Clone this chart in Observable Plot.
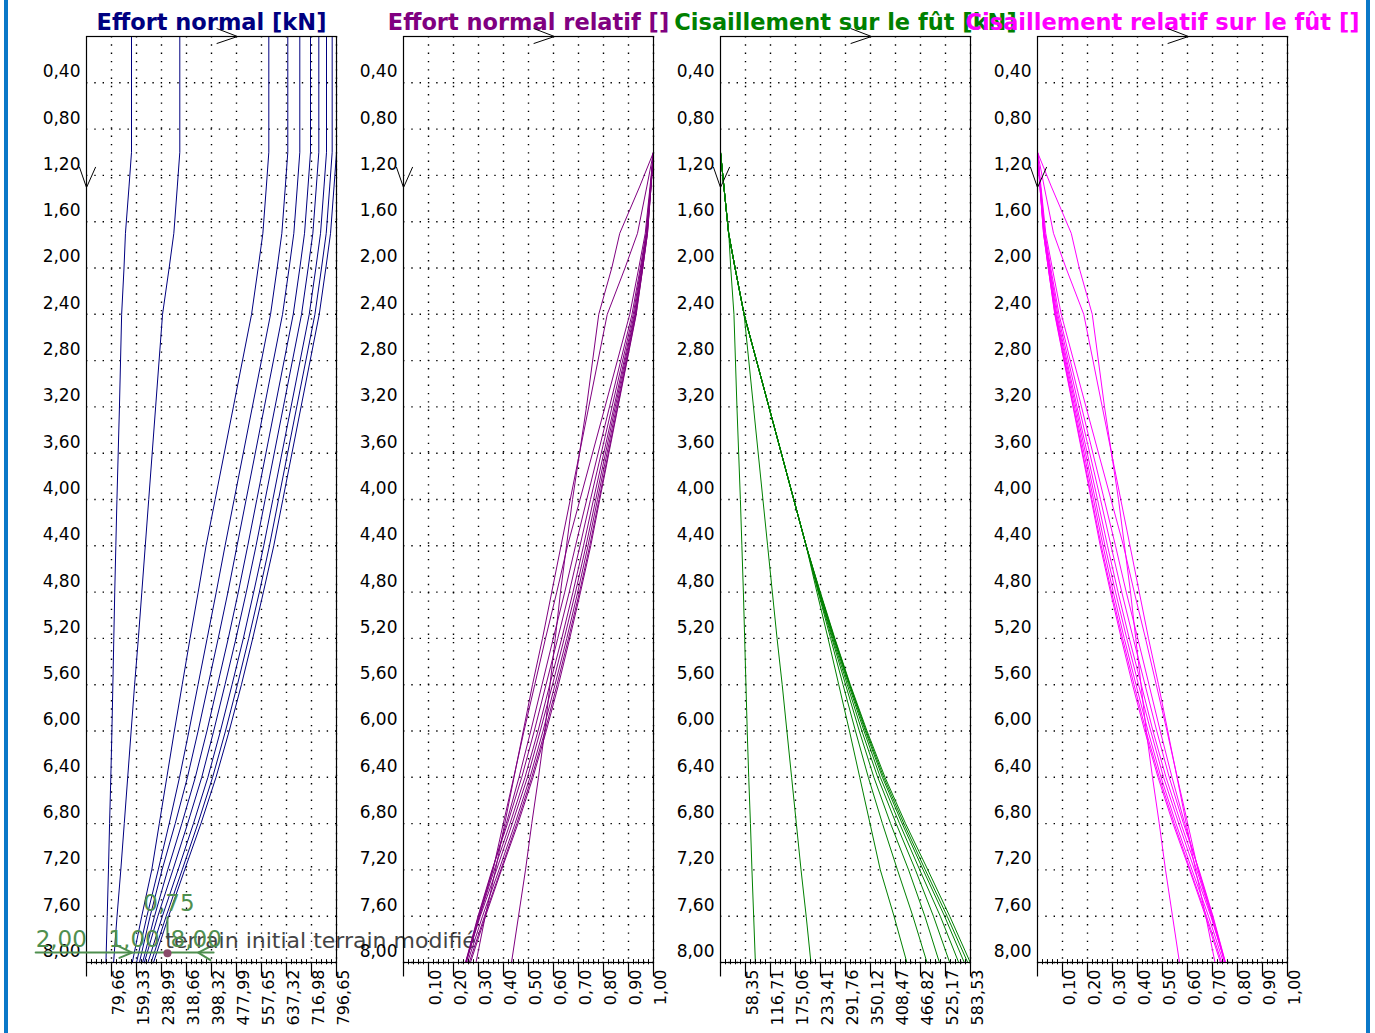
<!DOCTYPE html>
<html><head><meta charset="utf-8">
<script src="https://cdn.jsdelivr.net/npm/d3@7"></script>
<script src="https://cdn.jsdelivr.net/npm/@observablehq/plot@0.6"></script>
<style>
body{margin:0;background:#fff;}
#root{position:relative;width:1375px;height:1033px;overflow:hidden;background:#fff;font-family:"DejaVu Sans",sans-serif;}
.bar{position:absolute;top:0;width:4px;height:1033px;background:#0a78c8;}
</style></head><body><div id="root"><div class="bar" style="left:4px"></div><div class="bar" style="left:1366px"></div></div>
<script>
// depths (m) at which the curves were read
const depths = [0, 1.0, 1.3, 1.7, 2.0, 2.4, 3.2, 4.0, 4.4, 4.8, 5.2, 5.6, 6.0, 6.4, 6.8, 7.2, 7.6, 8.0];
const depthTicks = [0.4,0.8,1.2,1.6,2.0,2.4,2.8,3.2,3.6,4.0,4.4,4.8,5.2,5.6,6.0,6.4,6.8,7.2,7.6,8.0];

// Panel 1 : Effort normal [kN]
const normalTicks = [79.665,159.33,238.995,318.66,398.325,477.99,557.655,637.32,716.985,796.65];
const normalLabels = ["79,66","159,33","238,99","318,66","398,32","477,99","557,65","637,32","716,98","796,65"];
const effortNormal = [
  [143.4,143.4,135.4,124.1,119.5,112,105,97,93.5,90,87,84,81,77.5,73.5,70,66,62],
  [297.3,297.3,289.3,278.3,263.3,242.3,220.3,198.3,187.3,176.3,165.3,153.3,142.3,131.3,120.3,109.3,97.3,86.3],
  [581,581,573,562,547,526,468,410,381,356,330,305,280,256,232,208,176,146],
  [641.5,641.5,633.5,622.5,607.5,586.5,528.5,470.5,441.5,413.5,384.5,355.5,326.5,296.5,263.5,228.5,192.5,159.5],
  [679.7,679.7,671.7,660.7,645.7,624.7,566.7,508.7,479.7,450.7,419.7,387.7,355.7,321.7,282.7,240.7,202.7,168.7],
  [713.8,713.8,705.8,694.8,679.8,658.8,600.8,542.8,513.8,483.8,451.8,417.8,383.8,346.8,303.8,258.8,216.8,178.8],
  [740.3,740.3,732.3,721.3,706.3,685.3,627.3,569.3,540.3,509.3,476.3,441.3,405.3,367.3,322.3,275.3,227.3,184.3],
  [764.8,764.8,756.8,745.8,730.8,709.8,651.8,593.8,564.8,532.8,499.8,463.8,426.8,386.8,340.8,291.8,241.8,195.8],
  [782.9,782.9,774.9,763.9,748.9,727.9,669.9,611.9,582.9,550.9,516.9,480.9,442.9,401.9,354.9,304.9,253.9,205.9],
  [796.7,796.7,788.7,777.7,762.7,741.7,683.7,625.7,596.7,563.7,529.7,493.7,454.7,412.7,364.7,312.7,261.7,213.7]
];

// Panel 2 : Effort normal relatif []
const relTicks = [0.1,0.2,0.3,0.4,0.5,0.6,0.7,0.8,0.9,1.0];
const relLabels = ["0,10","0,20","0,30","0,40","0,50","0,60","0,70","0,80","0,90","1,00"];
const normalRelatif = [
  [1,1,.944,.865,.833,.781,.732,.676,.652,.628,.607,.586,.565,.540,.513,.488,.460,.432],
  [1,1,.973,.936,.886,.815,.741,.667,.630,.593,.556,.516,.479,.442,.405,.368,.327,.290],
  [1,1,.986,.967,.941,.905,.806,.706,.656,.613,.568,.525,.482,.441,.399,.358,.303,.251],
  [1,1,.988,.970,.947,.914,.824,.733,.688,.645,.599,.554,.509,.462,.411,.356,.300,.249],
  [1,1,.988,.972,.950,.919,.834,.748,.706,.663,.617,.570,.523,.473,.416,.354,.298,.248],
  [1,1,.989,.973,.952,.923,.842,.760,.720,.678,.633,.585,.538,.486,.426,.363,.304,.250],
  [1,1,.989,.974,.954,.926,.847,.769,.730,.688,.643,.596,.547,.496,.435,.372,.307,.249],
  [1,1,.990,.975,.956,.928,.852,.776,.738,.697,.653,.606,.558,.506,.446,.382,.316,.256],
  [1,1,.990,.976,.957,.930,.856,.782,.745,.704,.660,.614,.566,.513,.453,.389,.324,.263],
  [1,1,.990,.976,.957,.931,.858,.785,.749,.708,.665,.620,.571,.518,.458,.392,.328,.268]
];

// Panel 3 : Cisaillement sur le fût [kN]
const shearTicks = [58.353,116.706,175.059,233.412,291.765,350.118,408.471,466.824,525.177,583.53];
const shearLabels = ["58,35","116,71","175,06","233,41","291,76","350,12","408,47","466,82","525,17","583,53"];
const cisaillement = [
  [0,0,8,19.3,23.9,31.4,38.4,46.4,49.9,53.4,56.4,59.4,62.4,65.9,69.9,73.4,77.4,81.4],
  [0,0,8,19,34,55,77,99,110,121,132,144,155,166,177,188,200,211],
  [0,0,8,19,34,55,113,171,200,225,251,276,301,325,349,373,405,435],
  [0,0,8,19,34,55,113,171,200,228,257,286,315,345,378,413,449,482],
  [0,0,8,19,34,55,113,171,200,229,260,292,324,358,397,439,477,511],
  [0,0,8,19,34,55,113,171,200,230,262,296,330,367,410,455,497,535],
  [0,0,8,19,34,55,113,171,200,231,264,299,335,373,418,465,513,556],
  [0,0,8,19,34,55,113,171,200,232,265,301,338,378,424,473,523,569],
  [0,0,8,19,34,55,113,171,200,232,266,302,340,381,428,478,529,577],
  [0,0,8,19,34,55,113,171,200,233,267,303,342,384,432,484,535,583]
];

// Panel 4 : Cisaillement relatif sur le fût []
const cisaillementRelatif = [
  [0,0,.056,.135,.167,.219,.268,.324,.348,.372,.393,.414,.435,.460,.487,.512,.540,.568],
  [0,0,.027,.064,.114,.185,.259,.333,.370,.407,.444,.484,.521,.558,.595,.632,.673,.710],
  [0,0,.014,.033,.059,.095,.194,.294,.344,.387,.432,.475,.518,.559,.601,.642,.697,.749],
  [0,0,.012,.030,.053,.086,.176,.267,.312,.355,.401,.446,.491,.538,.589,.644,.700,.751],
  [0,0,.012,.028,.050,.081,.166,.252,.294,.337,.383,.430,.477,.527,.584,.646,.702,.752],
  [0,0,.011,.027,.048,.077,.158,.240,.280,.322,.367,.415,.462,.514,.574,.637,.696,.750],
  [0,0,.011,.026,.046,.074,.153,.231,.270,.312,.357,.404,.453,.504,.565,.628,.693,.751],
  [0,0,.010,.025,.044,.072,.148,.224,.262,.303,.347,.394,.442,.494,.554,.618,.684,.744],
  [0,0,.010,.024,.043,.070,.144,.218,.255,.296,.340,.386,.434,.487,.547,.611,.676,.737],
  [0,0,.010,.024,.043,.069,.142,.215,.251,.292,.335,.380,.429,.482,.542,.608,.672,.732]
];

const panels = [
  {title:"Effort normal [kN]", color:"#000080", values:effortNormal, ticks:normalTicks, labels:normalLabels, frameLeft:86},
  {title:"Effort normal relatif []", color:"#800080", values:normalRelatif, ticks:relTicks, labels:relLabels, frameLeft:403},
  {title:"Cisaillement sur le fût [kN]", color:"#008000", values:cisaillement, ticks:shearTicks, labels:shearLabels, frameLeft:720},
  {title:"Cisaillement relatif sur le fût []", color:"#ff00ff", values:cisaillementRelatif, ticks:relTicks, labels:relLabels, frameLeft:1037}
];

const ML = 90, MR = 90, W = 250, MT = 36, MB = 71, H = 1033;
const fmt = d => d.toFixed(2).replace(".", ",");
const dots = {stroke:"black", strokeOpacity:1, strokeWidth:1.4, strokeDasharray:"1.4,6.9"};
const root = document.getElementById("root");

panels.forEach((p, k) => {
  const xmax = p.ticks[p.ticks.length - 1];
  const rows = p.values.flatMap((arr, i) => arr.map((v, j) => ({curve: i, x: v, depth: depths[j]})));
  const minor = d3.range(1, 50).filter(i => i % 5 !== 0).map(i => xmax * i / 50);
  const arrowTop = [{x:0.522*xmax,y:-0.068},{x:0.604*xmax,y:0},{x:0.522*xmax,y:0.06}];
  const arrowLeft = [{x:-0.028*xmax,y:1.13},{x:0,y:1.305},{x:0.036*xmax,y:1.13}];
  const marks = [
    Plot.gridX(p.ticks, dots),
    Plot.gridY(depthTicks, dots),
    Plot.line(rows, {x:"x", y:"depth", z:"curve", stroke:p.color, strokeWidth:1}),
    Plot.frame({stroke:"black", strokeWidth:1.2}),
    Plot.ruleX([0, ...p.ticks], {y1:8, y2:8.125, stroke:"black", strokeWidth:1.2}),
    Plot.ruleX(minor, {y1:7.975, y2:8.02, stroke:"black", strokeWidth:1}),
    Plot.text([p.title], {frameAnchor:"top", text:d=>d, dy:-22, fontSize:22.5, fontWeight:"bold", fill:p.color}),
    Plot.line(arrowTop, {x:"x", y:"y", stroke:"black", strokeWidth:1}),
    Plot.line(arrowLeft, {x:"x", y:"y", stroke:"black", strokeWidth:1}),
    Plot.text(depthTicks, {y:d=>d, frameAnchor:"left", text:d=>fmt(d), textAnchor:"end", dx:-6, dy:-11, fontSize:17, fill:"black"}),
    Plot.text(p.ticks, {x:d=>d, frameAnchor:"bottom", text:(d,i)=>p.labels[i], rotate:-90, textAnchor:"end", dx:12, dy:7, fontSize:16, fill:"black"})
  ];
  if (k === 0) {
    const g = "#4f8f4f";
    marks.push(
      Plot.line([{x:-162,y:7.914},{x:405,y:7.914}], {x:"x", y:"y", stroke:g, strokeWidth:2}),
      Plot.line([{x:258,y:7.61},{x:258,y:7.79}], {x:"x", y:"y", stroke:g, strokeWidth:2}),
      Plot.line([{x:95,y:7.85},{x:145,y:7.914},{x:105,y:7.96}], {x:"x", y:"y", stroke:g, strokeWidth:2}),
      Plot.line([{x:395,y:7.86},{x:356,y:7.914},{x:395,y:7.98}], {x:"x", y:"y", stroke:g, strokeWidth:2}),
      Plot.text(["terrain initial terrain modifié"], {x:251, y:7.81, text:d=>d, textAnchor:"start", fontSize:22, fill:"#444"}),
      Plot.text(["2,00"], {x:-162, y:7.80, text:d=>d, textAnchor:"start", fontSize:23, fill:g}),
      Plot.text(["1,00"], {x:70, y:7.80, text:d=>d, textAnchor:"start", fontSize:23, fill:g}),
      Plot.text(["0,75"], {x:181, y:7.49, text:d=>d, textAnchor:"start", fontSize:23, fill:g}),
      Plot.text(["8,00"], {x:268, y:7.80, text:d=>d, textAnchor:"start", fontSize:23, fill:g}),
      Plot.dot([{x:258,y:7.92}], {x:"x", y:"y", r:4, fill:"#8a4a6a", stroke:"none"})
    );
  }
  const svg = Plot.plot({
    width: ML + W + MR, height: H,
    marginLeft: ML, marginRight: MR, marginTop: MT, marginBottom: MB,
    x: {domain:[0, xmax], axis:null},
    y: {domain:[0, 8], reverse:true, axis:null},
    style: {background:"transparent", overflow:"visible", fontFamily:"DejaVu Sans", maxWidth:"none"},
    marks
  });
  svg.style.position = "absolute";
  svg.style.left = (p.frameLeft - ML) + "px";
  svg.style.top = "0px";
  root.appendChild(svg);
});
</script></body></html>
